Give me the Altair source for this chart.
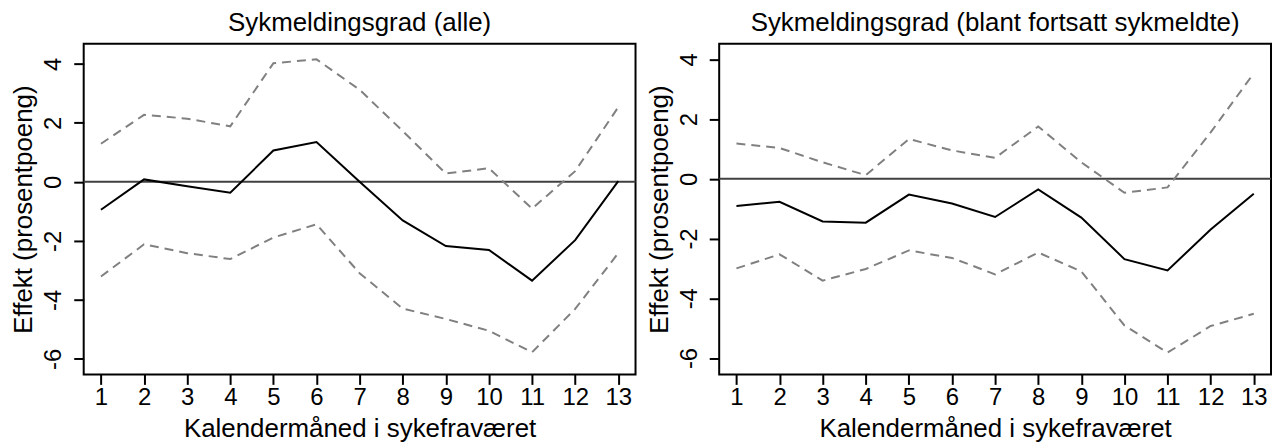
import altair as alt
import pandas as pd

months = list(range(1, 14))

# Left panel: Sykmeldingsgrad (alle)
left_upper = [1.29, 2.27, 2.14, 1.88, 4.02, 4.15, 3.12, 1.72, 0.28, 0.46, -0.91, 0.36, 2.53]
left_mean = [-0.95, 0.08, -0.15, -0.37, 1.06, 1.35, 0.00, -1.31, -2.18, -2.31, -3.35, -1.98, 0.02]
left_lower = [-3.21, -2.12, -2.42, -2.62, -1.89, -1.44, -3.10, -4.30, -4.65, -5.05, -5.78, -4.31, -2.42]

# Right panel: Sykmeldingsgrad (blant fortsatt sykmeldte)
right_upper = [1.18, 1.03, 0.55, 0.12, 1.33, 0.95, 0.70, 1.75, 0.55, -0.47, -0.29, 1.55, 3.53]
right_mean = [-0.91, -0.77, -1.43, -1.47, -0.53, -0.83, -1.28, -0.36, -1.30, -2.69, -3.07, -1.70, -0.50]
right_lower = [-3.00, -2.53, -3.41, -3.02, -2.40, -2.65, -3.20, -2.47, -3.10, -4.91, -5.82, -4.93, -4.52]

x_ticks = months
y_ticks = [-6, -4, -2, 0, 2, 4]

titles = ["Sykmeldingsgrad (alle)", "Sykmeldingsgrad (blant fortsatt sykmeldte)"]
x_title = "Kalendermåned i sykefraværet"
y_title = "Effekt  (prosentpoeng)"

FONT = "Liberation Sans"


def make_df(upper, mean, lower):
    rows = []
    for m, u, c, l in zip(months, upper, mean, lower):
        rows.append({"month": m, "value": u, "series": "upper"})
        rows.append({"month": m, "value": c, "series": "mean"})
        rows.append({"month": m, "value": l, "series": "lower"})
    return pd.DataFrame(rows)


def panel(df, title, ydomain):
    xs = alt.Scale(domain=[0.6, 13.4], nice=False, zero=False)
    ys = alt.Scale(domain=ydomain, nice=False, zero=False)
    xax = alt.Axis(values=x_ticks, title=x_title, labelAngle=0)
    yax = alt.Axis(values=y_ticks, title=y_title, labelAngle=270,
                   labelExpr="toString(datum.value)")
    base = alt.Chart(df)
    zero = alt.Chart(pd.DataFrame({"z": [0]})).mark_rule(
        color="#404040", strokeWidth=2
    ).encode(y=alt.Y("z:Q", scale=ys, axis=yax))
    dashed = base.transform_filter(alt.datum.series != "mean").mark_line(
        color="#808080", strokeWidth=2, strokeDash=[9, 6]
    ).encode(
        x=alt.X("month:Q", scale=xs, axis=xax),
        y=alt.Y("value:Q", scale=ys, axis=yax),
        detail="series:N",
    )
    solid = base.transform_filter(alt.datum.series == "mean").mark_line(
        color="black", strokeWidth=2
    ).encode(
        x=alt.X("month:Q", scale=xs, axis=xax),
        y=alt.Y("value:Q", scale=ys, axis=yax),
    )
    return alt.layer(zero, dashed, solid).properties(
        width=554,
        height=332,
        title=alt.TitleParams(title, fontSize=26, font=FONT, fontWeight="normal",
                              anchor="middle", offset=8, color="black"),
    )


left = panel(make_df(left_upper, left_mean, left_lower), titles[0], [-6.53, 4.68])
right = panel(make_df(right_upper, right_mean, right_lower), titles[1], [-6.55, 4.52])

chart = alt.hconcat(left, right, spacing=7).properties(
    padding={"left": 2, "top": 0, "right": 0, "bottom": 0}
).configure_view(
    stroke="black", strokeWidth=2
).configure_axis(
    domain=False, grid=False, ticks=True, tickColor="black", tickWidth=2, tickSize=10,
    labelFont=FONT, labelFontSize=24, labelColor="black",
    titleFont=FONT, titleFontSize=26, titleFontWeight="normal", titleColor="black",
).configure_axisX(
    labelPadding=1, titlePadding=6
).configure_axisY(
    labelPadding=8, titlePadding=5
)

chart.save("out.html", embed_options={"renderer": "svg", "actions": False})
